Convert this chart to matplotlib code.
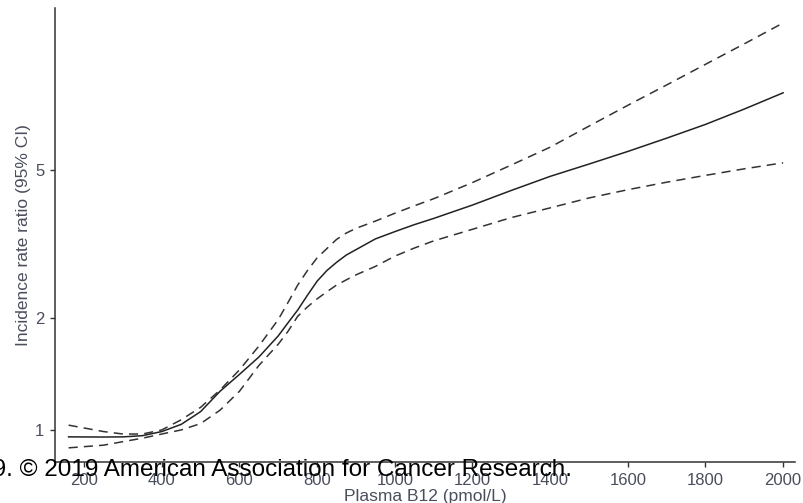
import numpy as np
import matplotlib
matplotlib.use('Agg')
import matplotlib.pyplot as plt
from matplotlib import rcParams
from matplotlib.ticker import FixedLocator, NullLocator

rcParams['font.family'] = ['Liberation Sans', 'DejaVu Sans']

# plasma B12 (pmol/L) and incidence rate ratio with 95% CI
b12 = [160, 250, 300, 350, 400, 450, 500, 550, 600, 650, 700, 725, 750, 775, 800, 825,
       850, 875, 900, 950, 1000, 1050, 1100, 1200, 1300, 1400, 1500, 1600, 1700, 1800,
       1900, 2000]
irr = [0.958, 0.957, 0.958, 0.965, 0.99, 1.035, 1.12, 1.27, 1.41, 1.57, 1.79, 1.94, 2.10,
       2.30, 2.51, 2.68, 2.82, 2.95, 3.05, 3.26, 3.41, 3.56, 3.70, 4.02, 4.40, 4.80, 5.18,
       5.60, 6.08, 6.62, 7.28, 8.05]
ci_hi = [1.03, 0.99, 0.975, 0.975, 1.0, 1.065, 1.15, 1.28, 1.45, 1.68, 1.98, 2.20, 2.45,
         2.68, 2.90, 3.07, 3.25, 3.38, 3.48, 3.64, 3.82, 4.00, 4.18, 4.62, 5.15, 5.75, 6.55,
         7.45, 8.45, 9.60, 10.9, 12.4]
ci_lo = [0.895, 0.91, 0.93, 0.95, 0.975, 1.0, 1.04, 1.13, 1.27, 1.49, 1.70, 1.84, 2.02,
         2.14, 2.25, 2.35, 2.45, 2.53, 2.61, 2.75, 2.93, 3.08, 3.22, 3.46, 3.72, 3.95, 4.20,
         4.42, 4.63, 4.83, 5.03, 5.22]

xticks = [200, 400, 600, 800, 1000, 1200, 1400, 1600, 1800, 2000]
yticks = [1, 2, 5]
label_col = '#4a4e5c'

fig = plt.figure(figsize=(8.04, 5.03), dpi=100)
ax = fig.add_axes([0.0684, 0.0815, 0.9206, 0.9025])

ax.plot(b12, irr, color='#222222', lw=1.1)
ax.plot(b12, ci_hi, color='#333333', lw=1.1, dashes=(6, 4))
ax.plot(b12, ci_lo, color='#333333', lw=1.1, dashes=(6, 4))

ax.set_yscale('log')
ax.set_xlim(125, 2031)
ax.set_ylim(0.82, 13.6)
ax.xaxis.set_major_locator(FixedLocator(xticks))
ax.yaxis.set_major_locator(FixedLocator(yticks))
ax.yaxis.set_minor_locator(NullLocator())
ax.set_yticklabels([str(t) for t in yticks])
ax.set_xticklabels([str(t) for t in xticks])

for s in ['top', 'right']:
    ax.spines[s].set_visible(False)
for s in ['left', 'bottom']:
    ax.spines[s].set_linewidth(1.1)
    ax.spines[s].set_color('#333333')

ax.tick_params(axis='both', length=3.6, width=1.0, color='#333333',
               labelsize=12, labelcolor=label_col, pad=4)
ax.set_xlabel('Plasma B12 (pmol/L)', fontsize=12.5, color=label_col, labelpad=1)
ax.set_ylabel('Incidence rate ratio (95% CI)', fontsize=12.5, color=label_col, labelpad=3)

fig.text(572 / 804, 1 - 476 / 503,
         '2019. \u00a9 2019 American Association for Cancer Research.',
         ha='right', va='baseline', fontsize=17.5, color='black', zorder=10)

plt.savefig('out.png', dpi=100)
